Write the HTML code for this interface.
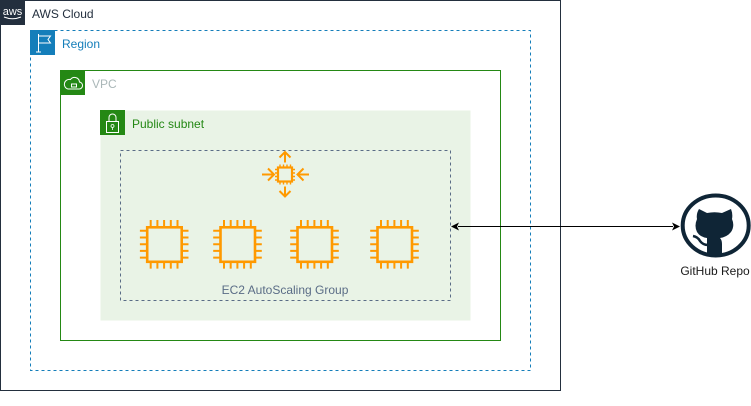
<!DOCTYPE html>
<html><head><meta charset="utf-8"><style>html,body{margin:0;padding:0;background:#fff}svg{display:block}text{font-family:"Liberation Sans",sans-serif;font-size:12px}</style></head><body>
<svg xmlns="http://www.w3.org/2000/svg" width="751" height="406" viewBox="0 0 751 406">
<defs>
<g id="chip" fill="none" stroke="#f90">
<rect x="-17" y="-17" width="34.500" height="34.500" fill="#e9f3e6" stroke-width="2.600"/>
<path stroke-width="2" d="M-13.500-18v-6.300M-6.800-18v-6.300M-.1-18v-6.300M6.600-18v-6.300M13.300-18v-6.300M-13.500 18v6.300M-6.800 18v6.300M-.1 18v6.300M6.600 18v6.300M13.300 18v6.300M-18-13.500h-6.300M-18-6.800h-6.300M-18-.1h-6.300M-18 6.600h-6.300M-18 13.300h-6.300M18-13.500h6.300M18-6.800h6.300M18-.1h6.300M18 6.600h6.300M18 13.300h6.300"/>
</g>
</defs>
<rect x="0.500" y="0.500" width="560" height="390" fill="#fff" stroke="#232f3e"/>
<rect x="0" y="0" width="25" height="25" fill="#232f3e"/>
<text x="12.500" y="15" text-anchor="middle" fill="#fff" style="font-size:11px">aws</text>
<path d="M4 17q8.500 3.500 17 0" fill="none" stroke="#fff" stroke-width="1"/>
<text x="32" y="18" fill="#232f3e">AWS Cloud</text>
<rect x="30.500" y="30.500" width="500" height="340" fill="#fff" stroke="#147eba" stroke-dasharray="3 3"/>
<rect x="30" y="30" width="25" height="25" fill="#147eba"/>
<path d="M38.500 34v18M36 52h5M38.500 36h12l-2.500 3.500 2.500 3.500h-12" fill="none" stroke="#fff" stroke-width="1"/>
<text x="62" y="48" fill="#147eba">Region</text>
<rect x="60.500" y="70.500" width="440" height="270" fill="#fff" stroke="#248814"/>
<rect x="60" y="70" width="25" height="25" fill="#248814"/>
<path d="M68 89h10.500a3.500 3.500 0 0 0 1-7 5 5 0 0 0-9-2.500 4.800 4.800 0 0 0-2.500 9.500z" fill="none" stroke="#fff" stroke-width="1"/>
<rect x="71.500" y="84" width="5" height="3" fill="#248814" stroke="#fff" stroke-width="1"/>
<text x="92" y="88" fill="#aab7b8">VPC</text>
<rect x="100.500" y="110.500" width="370" height="210" fill="#e9f3e6"/>
<rect x="100" y="110" width="25" height="25" fill="#248814"/>
<rect x="106.500" y="121.500" width="12" height="11" fill="none" stroke="#fff" stroke-width="1"/>
<path d="M109 121v-3.500a3.500 3.500 0 0 1 7 0v3.500" fill="none" stroke="#fff" stroke-width="1"/>
<circle cx="112.500" cy="126" r="1.500" fill="none" stroke="#fff" stroke-width=".8"/>
<path d="M112.500 127.500v2.500" stroke="#fff" stroke-width=".8"/>
<text x="132" y="128" fill="#248814">Public subnet</text>
<rect x="120.500" y="150.500" width="330" height="150" fill="none" stroke="#5a6c86" stroke-dasharray="3 3"/>
<text x="285" y="294" text-anchor="middle" fill="#5a6c86">EC2 AutoScaling Group</text>
<use href="#chip" x="164.200" y="244.300"/>
<use href="#chip" x="237.500" y="244.300"/>
<use href="#chip" x="314.500" y="244.300"/>
<use href="#chip" x="394.500" y="244.300"/>
<g fill="none" stroke="#f90" stroke-width="2">
<rect x="278" y="167.500" width="14" height="14" stroke-width="2.200"/>
<path d="M280 164.500v3M283.500 164.500v3M287 164.500v3M290.500 164.500v3M280 181.500v3M283.500 181.500v3M287 181.500v3M290.500 181.500v3M275 169.500h3M275 173h3M275 176.500h3M275 180h3M292 169.500h3M292 173h3M292 176.500h3M292 180h3" stroke-width="1.400"/>
<path d="M285 162.500v-10M279.500 157.500l5.500-5.500 5.500 5.500M285 186.500v10M279.500 191l5.500 5.500 5.500-5.500M262 174.500h11M268 168.500l6 6-6 6M309 174.500h-11M303.500 168.500l-6 6 6 6"/>
</g>
<path d="M458 226.500h215" stroke="#000" stroke-width="1"/>
<path d="M451 226.500l8-4 -2 4 2 4zM680 226.500l-8-4 2 4-2 4z" fill="#000"/>
<ellipse cx="715.700" cy="225.500" rx="33" ry="30" fill="#fff" stroke="#0f2536" stroke-width="4"/>
<path d="M699 209L707 213Q714.500 211.500 722 213L731 209Q733 214 732 219Q735 226 731 232Q727 237 720 238Q722 240 722 244V255.500Q714 256.500 707 255.500V238Q700 237 697 232Q694 226 697 219Q696 214 699 209z" fill="#0f2536"/>
<path d="M693 236q5 1 7 5q3 4 8 4" fill="none" stroke="#0f2536" stroke-width="2.500"/>
<text x="715" y="275" text-anchor="middle" fill="#1a1a1a">GitHub Repo</text>
</svg>
</body></html>
